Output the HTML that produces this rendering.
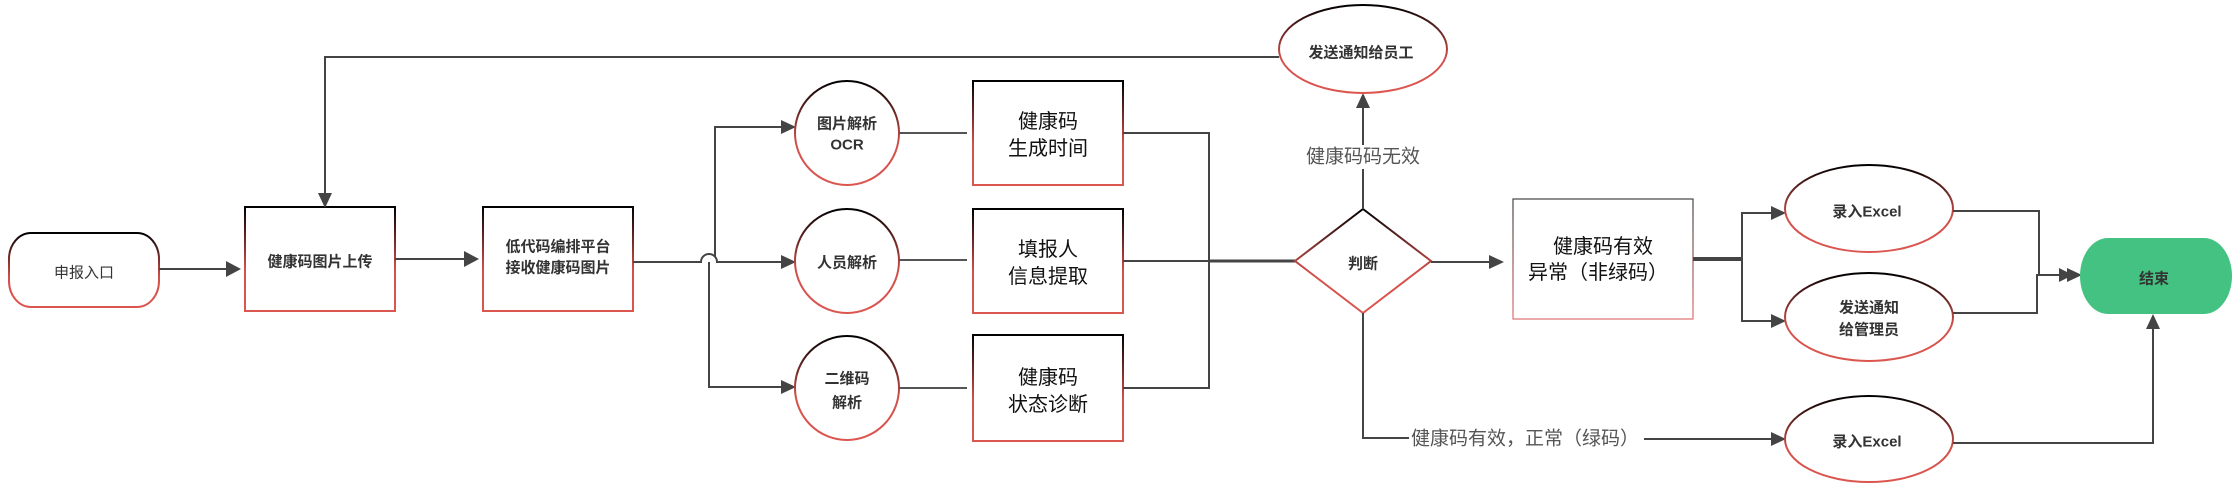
<!DOCTYPE html>
<html>
<head>
<meta charset="utf-8">
<style>
html,body{margin:0;padding:0;background:#fff;}
svg{display:block;}
text{font-family:"Liberation Sans","Noto Sans CJK SC",sans-serif;}
.b{font-weight:bold;font-size:15px;fill:#333;}
.r{font-size:20px;fill:#111;}
.l{font-size:19px;fill:#555;}
.ln{stroke:#444;stroke-width:2;fill:none;}
.ah{fill:#444;stroke:none;}
.sh{fill:#fff;stroke:url(#g);stroke-width:2;}
</style>
</head>
<body>
<svg width="2240" height="488" viewBox="0 0 2240 488" xmlns="http://www.w3.org/2000/svg">
<defs>
<linearGradient id="g" x1="0" y1="0" x2="0" y2="1">
<stop offset="0" stop-color="#000"/>
<stop offset="0.6" stop-color="#d2504b"/>
<stop offset="1" stop-color="#dc5650"/>
</linearGradient>
<linearGradient id="g2" x1="0" y1="0" x2="0" y2="1">
<stop offset="0" stop-color="#444"/>
<stop offset="1" stop-color="#e07070"/>
</linearGradient>
</defs>

<!-- 申报入口 -->
<rect x="9" y="233" width="150" height="74" rx="22" ry="26" class="sh"/>
<text x="84" y="273" text-anchor="middle" dominant-baseline="central" style="font-size:15px;fill:#333">申报入口</text>

<!-- arrow to box1 -->
<path d="M159 269 H227" class="ln"/>
<polygon points="226,261 241,269 226,277" class="ah"/>

<!-- box1 -->
<rect x="245" y="207" width="150" height="104" class="sh"/>
<text x="320" y="262" text-anchor="middle" dominant-baseline="central" class="b">健康码图片上传</text>

<!-- arrow box1 -> box2 -->
<path d="M395 259 H465" class="ln"/>
<polygon points="464,251 479,259 464,267" class="ah"/>

<!-- box2 -->
<rect x="483" y="207" width="150" height="104" class="sh"/>
<text x="558" y="247" text-anchor="middle" dominant-baseline="central" class="b">低代码编排平台</text>
<text x="558" y="268" text-anchor="middle" dominant-baseline="central" class="b">接收健康码图片</text>

<!-- main split with hop -->
<path d="M709 262 V387 H782" class="ln"/>
<path d="M633 262 H701 A8 8 0 0 1 717 262 H782" class="ln"/>
<path d="M715 257 V127 H782" class="ln"/>
<polygon points="781,120 796,127 781,134" class="ah"/>
<polygon points="781,255 796,262 781,269" class="ah"/>
<polygon points="781,380 796,387 781,394" class="ah"/>

<!-- circles -->
<circle cx="847" cy="133" r="52" class="sh"/>
<circle cx="847" cy="261" r="52" class="sh"/>
<circle cx="847" cy="388" r="52" class="sh"/>
<text x="847" y="124" text-anchor="middle" dominant-baseline="central" class="b">图片解析</text>
<text x="847" y="145" text-anchor="middle" dominant-baseline="central" class="b">OCR</text>
<text x="847" y="263" text-anchor="middle" dominant-baseline="central" class="b">人员解析</text>
<text x="847" y="379" text-anchor="middle" dominant-baseline="central" class="b">二维码</text>
<text x="847" y="403" text-anchor="middle" dominant-baseline="central" class="b">解析</text>

<!-- circle -> box lines -->
<path d="M899 133 H967 M899 260 H967 M899 388 H967" class="ln" style="stroke:#555"/>

<!-- boxes -->
<rect x="973" y="81" width="150" height="104" class="sh"/>
<rect x="973" y="209" width="150" height="104" class="sh"/>
<rect x="973" y="335" width="150" height="106" class="sh"/>
<text x="1048" y="122" text-anchor="middle" dominant-baseline="central" class="r">健康码</text>
<text x="1048" y="149" text-anchor="middle" dominant-baseline="central" class="r">生成时间</text>
<text x="1048" y="250" text-anchor="middle" dominant-baseline="central" class="r">填报人</text>
<text x="1048" y="277" text-anchor="middle" dominant-baseline="central" class="r">信息提取</text>
<text x="1048" y="378" text-anchor="middle" dominant-baseline="central" class="r">健康码</text>
<text x="1048" y="405" text-anchor="middle" dominant-baseline="central" class="r">状态诊断</text>

<!-- merge lines -->
<path d="M1123 133 H1209 V388 H1123" class="ln"/>
<path d="M1123 261 H1209" class="ln"/>
<path d="M1209 261 H1296" class="ln" style="stroke-width:3"/>

<!-- diamond -->
<polygon points="1363,209 1431,261 1363,313 1295,261" class="sh"/>
<text x="1363" y="264" text-anchor="middle" dominant-baseline="central" class="b">判断</text>

<!-- diamond -> right box -->
<path d="M1431 262 H1490" class="ln"/>
<polygon points="1489,255 1504,262 1489,269" class="ah"/>

<!-- up to ellipse -->
<path d="M1363 209 V107" class="ln"/>
<polygon points="1356,108 1363,93 1370,108" class="ah"/>
<rect x="1303" y="145" width="120" height="24" fill="#fff"/>
<text x="1363" y="157" text-anchor="middle" dominant-baseline="central" class="l">健康码码无效</text>

<!-- ellipse top -->
<ellipse cx="1363" cy="49" rx="84" ry="44" class="sh"/>
<text x="1361" y="53" text-anchor="middle" dominant-baseline="central" class="b">发送通知给员工</text>

<!-- feedback loop -->
<path d="M1279 57 H325 V194" class="ln"/>
<polygon points="318,193 325,208 332,193" class="ah"/>

<!-- down branch -->
<path d="M1363 313 V438 H1409" class="ln"/>
<text x="1411" y="439" dominant-baseline="central" class="l">健康码有效，正常（绿码）</text>
<path d="M1644 439 H1772" class="ln"/>
<polygon points="1771,432 1786,439 1771,446" class="ah"/>

<!-- abnormal box -->
<rect x="1513" y="199" width="180" height="120" fill="#fff" stroke="url(#g2)" stroke-width="1.2"/>
<text x="1603" y="247" text-anchor="middle" dominant-baseline="central" class="r">健康码有效</text>
<text x="1598" y="273" text-anchor="middle" dominant-baseline="central" class="r">异常（非绿码）</text>

<!-- split to two ellipses -->
<path d="M1693 259 H1742" class="ln" style="stroke-width:4"/>
<path d="M1772 213 H1742 V321 H1772" class="ln"/>
<polygon points="1771,206 1786,213 1771,220" class="ah"/>
<polygon points="1771,314 1786,321 1771,328" class="ah"/>

<!-- right ellipses -->
<ellipse cx="1869" cy="208.5" rx="84" ry="43.5" class="sh"/>
<ellipse cx="1869" cy="317" rx="84" ry="44" class="sh"/>
<ellipse cx="1869" cy="439" rx="84" ry="43" class="sh"/>
<text x="1867" y="212" text-anchor="middle" dominant-baseline="central" class="b">录入Excel</text>
<text x="1869" y="308" text-anchor="middle" dominant-baseline="central" class="b">发送通知</text>
<text x="1869" y="330" text-anchor="middle" dominant-baseline="central" class="b">给管理员</text>
<text x="1867" y="442" text-anchor="middle" dominant-baseline="central" class="b">录入Excel</text>

<!-- merge to end -->
<path d="M1953 211 H2039 V275" class="ln"/>
<path d="M1953 313 H2037 V275 H2062" class="ln"/>
<polygon points="2059,268 2073,275 2059,282" class="ah"/>
<polygon points="2067,268 2082,275 2067,282" class="ah"/>

<!-- end node -->
<rect x="2080" y="238" width="152" height="76" rx="28" ry="38" fill="#43c282"/>
<text x="2154" y="279" text-anchor="middle" dominant-baseline="central" class="b">结束</text>

<!-- bottom to end -->
<path d="M1953 443 H2153 V328" class="ln"/>
<polygon points="2146,329 2153,314 2160,329" class="ah"/>
</svg>
</body>
</html>
